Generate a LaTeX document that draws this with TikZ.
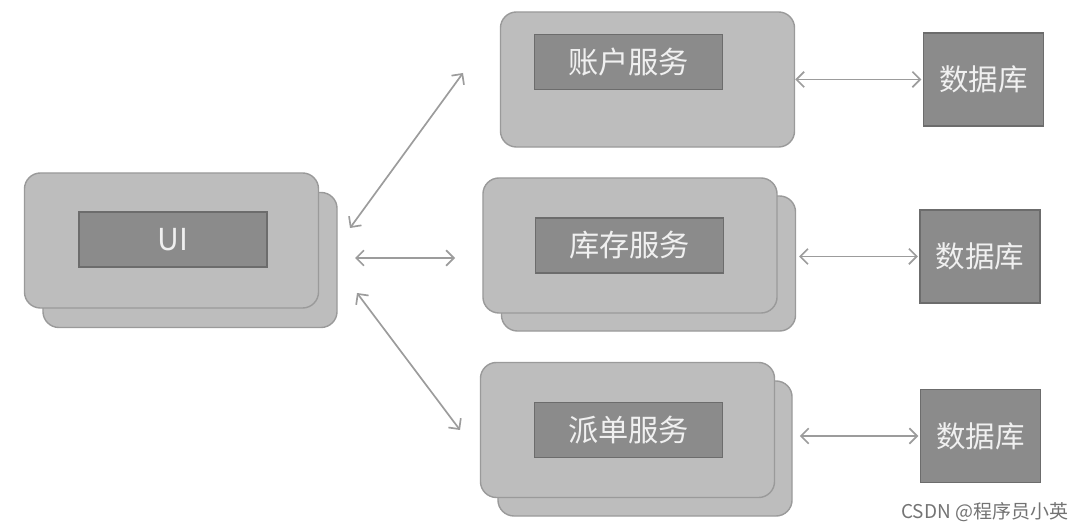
\documentclass[tikz,border=0pt]{standalone}
\usepackage{fontspec}
\setmainfont{Noto Sans CJK SC}
\usetikzlibrary{arrows.meta}

\definecolor{boxfill}{HTML}{BDBDBD}
\definecolor{boxline}{HTML}{9A9A9A}
\definecolor{darkfill}{HTML}{8B8B8B}
\definecolor{darkline}{HTML}{6C6C6C}
\definecolor{linkgray}{HTML}{9C9C9C}

\begin{document}
\begin{tikzpicture}[x=0.025cm,y=-0.025cm,
        svc/.style={draw=boxline, fill=boxfill, line width=1pt, rounded corners=0.4cm,
                        minimum width=7.35cm, minimum height=3.375cm},
        tag/.style={draw=darkline, fill=darkfill, line width=0.8pt,
                        minimum width=4.7cm, minimum height=1.375cm,
                        text=white!94!black, font=\fontsize{21.5}{25}\selectfont},
        db/.style={draw=darkline, fill=darkfill, line width=1pt,
                        minimum width=3cm, minimum height=2.33cm,
                        text=white!94!black, font=\fontsize{21}{25}\selectfont},
        link/.style={draw=linkgray, line width=1.2pt,
                        {Straight Barb[length=5.5pt,width=11pt]}-{Straight Barb[length=5.5pt,width=11pt]}}]
            \useasboundingbox (0,0) rectangle (1086,530);

            % stacked boxes
            \node[svc] (uiback) at (190,260) {};
            \node[svc] (ui) at (171.5,240.5) {};
            \node[tag] (uitag) at (173,239.5) {UI};

            \node[svc] (acct) at (647.5,79.5) {};
            \node[tag] (accttag) at (628.5,62) {账户服务};

            \node[svc] (invback) at (648.5,263.5) {};
            \node[svc] (inv) at (630,245.5) {};
            \node[tag] (invtag) at (629.5,245.5) {库存服务};

            \node[svc] (dispback) at (645,448.5) {};
            \node[svc] (disp) at (627.5,430) {};
            \node[tag] (disptag) at (628.5,430) {派单服务};

            % databases
            \node[db] (db1) at (983.5,79.5) {数据库};
            \node[db] (db2) at (980,256.5) {数据库};
            \node[db] (db3) at (980.5,436) {数据库};

            % free ends of the UI links
            \coordinate (u1) at (350,228);
            \coordinate (a1) at (463,73);
            \coordinate (u2) at (355,258);
            \coordinate (a2) at (455,258);
            \coordinate (u3) at (357,293);
            \coordinate (a3) at (460,430);
            \foreach \i in {1,2,3}
                \draw[link] (u\i) -- (a\i);

            \draw[link] (acct.east |- db1.west) -- ([xshift=-1pt]db1.west);
            \draw[link] ([xshift=2pt]invback.east |- db2.west) -- ([xshift=-1pt]db2.west);
            \draw[link] ([xshift=5pt]dispback.east |- db3.west) -- ([xshift=-1pt]db3.west);

            \node[text=black!55, font=\fontsize{13.5}{16}\selectfont, anchor=east] (mark) at (1073,512) {CSDN @程序员小英};
\end{tikzpicture}
\end{document}
